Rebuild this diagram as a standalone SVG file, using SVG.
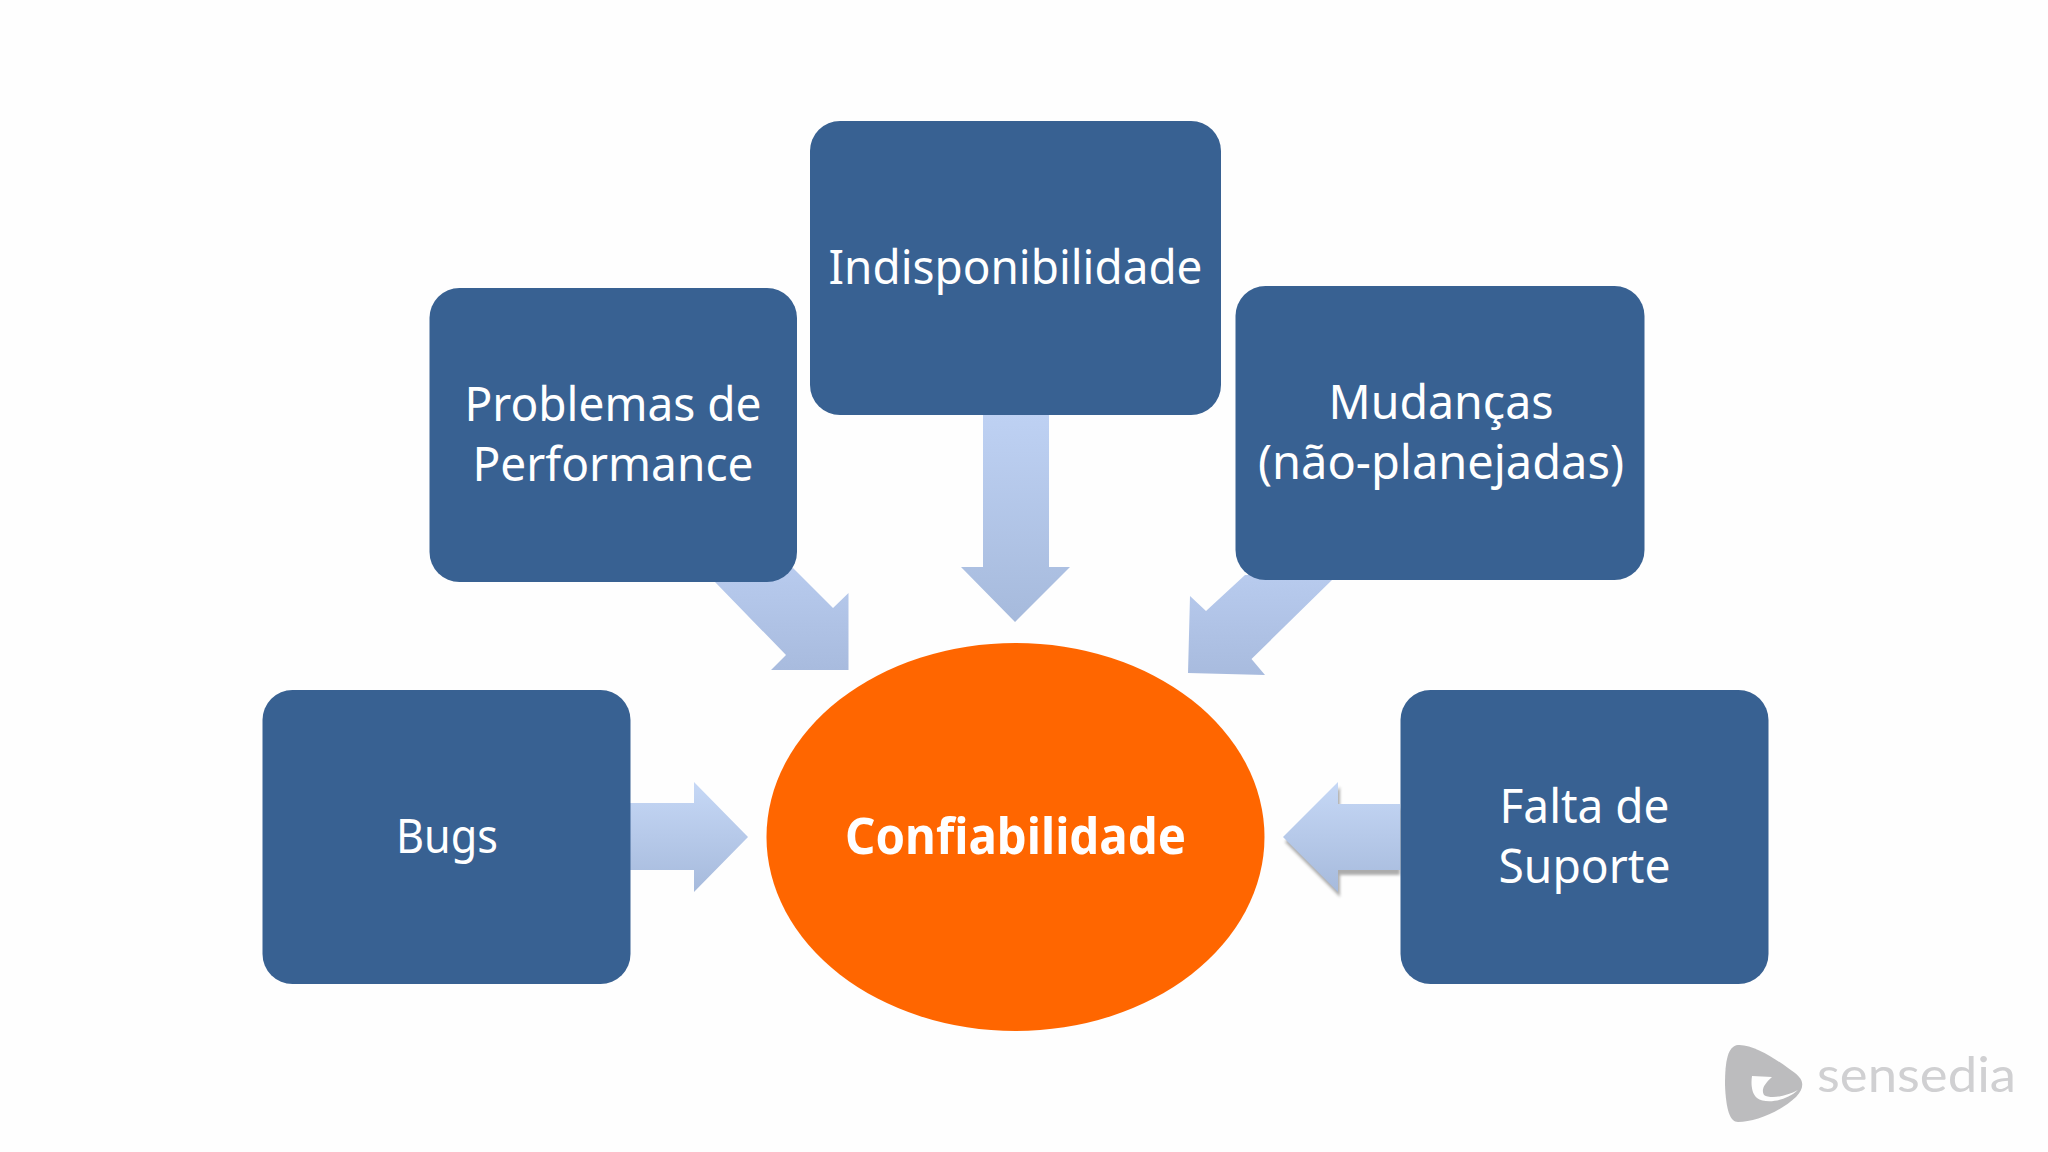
<svg xmlns="http://www.w3.org/2000/svg" width="2048" height="1152" viewBox="0 0 2048 1152">
<style>
.box{fill:#386192}
.t{font-family:"Noto Sans","Open Sans",sans-serif;font-size:48px;fill:#fff;text-anchor:middle}
.b{font-weight:700;font-size:50px}
.ar{fill:url(#g)}
.ac{fill:url(#g3)}
.ad{fill:url(#g2)}
</style>
<defs>
<linearGradient id="g" x1="0" y1="0" x2="0" y2="1"><stop offset="0" stop-color="#c6d8f6"/><stop offset="1" stop-color="#a6badc"/></linearGradient>
<linearGradient id="g3" x1="0" y1="0" x2="0" y2="1"><stop offset="0" stop-color="#bed1f3"/><stop offset="1" stop-color="#a6badc"/></linearGradient>
<linearGradient id="g2" x1="0" y1="0" x2="0" y2="1"><stop offset="0" stop-color="#b8cbee"/><stop offset="1" stop-color="#a8bbde"/></linearGradient>
<filter id="s" x="-20%" y="-20%" width="140%" height="140%"><feGaussianBlur stdDeviation="1.5"/></filter>
</defs>
<rect width="2048" height="1152" fill="#fefefe"/>
<g id="connectors">
<polygon class="ac" points="983,415 1049,415 1049,567 1070,567 1015,622 961,567 983,567"/>
<polygon class="ad" points="715,582 786,655 771,670 848.5,670 848.5,593 833,608 793,568 780,575"/>
<polygon class="ad" points="1245,575 1206,611 1190,596 1188,673 1265,675 1251.5,659 1332,580 1290,575"/>
<polygon class="ar" points="630,803 694,803 694,782 748,837 694,892 694,870 630,870"/>
<polygon points="1400,809 1340,809 1340,787 1285,842 1340,897 1340,875 1400,875" fill="#777" opacity="0.6" filter="url(#s)"/>
<polygon class="ar" points="1400,804 1338,804 1338,782 1283,837 1338,892 1338,870 1400,870"/>
</g>
<g id="n-performance"><rect class="box" x="429.500" y="288" width="367.500" height="294" rx="30"/><text class="t" x="613" y="421" textLength="297" lengthAdjust="spacingAndGlyphs">Problemas de</text><text class="t" x="613" y="481" textLength="281" lengthAdjust="spacingAndGlyphs">Performance</text></g>
<g id="n-indisponibilidade"><rect class="box" x="810" y="121" width="411" height="294" rx="30"/><text class="t" x="1015.500" y="284" textLength="374" lengthAdjust="spacingAndGlyphs">Indisponibilidade</text></g>
<g id="n-mudancas"><rect class="box" x="1235.500" y="286" width="409" height="294" rx="30"/><text class="t" x="1441" y="419" textLength="225" lengthAdjust="spacingAndGlyphs">Mudanças</text><text class="t" x="1441" y="479" textLength="366" lengthAdjust="spacingAndGlyphs">(não-planejadas)</text></g>
<g id="n-bugs"><rect class="box" x="262.500" y="690" width="368" height="294" rx="30"/><text class="t" x="447" y="853" textLength="102" lengthAdjust="spacingAndGlyphs">Bugs</text></g>
<g id="n-suporte"><rect class="box" x="1400.500" y="690" width="368" height="294" rx="30"/><text class="t" x="1584.500" y="823" textLength="170" lengthAdjust="spacingAndGlyphs">Falta de</text><text class="t" x="1584.500" y="883" textLength="172" lengthAdjust="spacingAndGlyphs">Suporte</text></g>
<g id="n-confiabilidade"><ellipse cx="1015.500" cy="837" rx="249" ry="194" fill="#ff6600"/><text class="t b" x="1015.500" y="854" textLength="341" lengthAdjust="spacingAndGlyphs">Confiabilidade</text></g>
<g id="logo">
<path d="M1738,1045C1755,1044 1780,1062 1795,1073C1805,1081 1804,1088 1796,1097C1780,1112 1755,1122 1738,1122C1730,1122 1726,1110 1725,1085C1725,1060 1728,1046 1738,1045Z" fill="#bcbcbe"/>
<path d="M1752,1076L1772,1077C1764,1084 1761,1090 1764,1095C1770,1099 1785,1097 1798,1090C1785,1102 1765,1104 1757,1098C1751,1093 1751,1082 1752,1076Z" fill="#fefefe"/>
<text x="1817" y="1092" font-family="Lato,sans-serif" font-size="49" fill="#d0d0d2" textLength="199" lengthAdjust="spacingAndGlyphs">sensedia</text>
</g>
</svg>
